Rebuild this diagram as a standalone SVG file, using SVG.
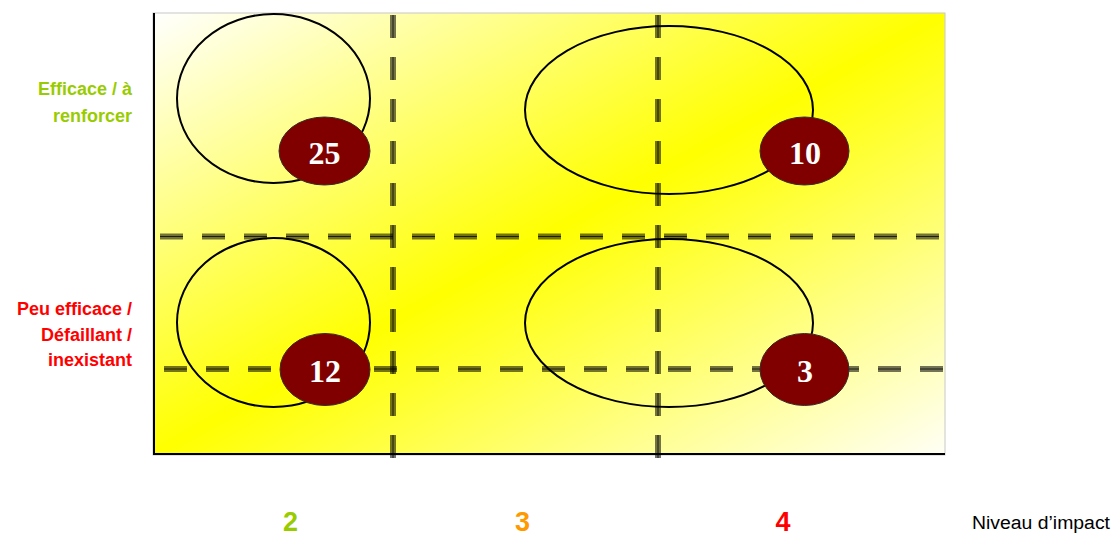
<svg xmlns="http://www.w3.org/2000/svg" width="1112" height="537" viewBox="0 0 1112 537">
  <defs>
    <linearGradient id="plotFill" x1="0" y1="0" x2="1" y2="1">
      <stop offset="0" stop-color="#FFFFFF"/>
      <stop offset="0.5" stop-color="#FFFF00"/>
      <stop offset="1" stop-color="#FFFFF6"/>
    </linearGradient>
  </defs>
  <style>
    .dash { stroke: #000; stroke-opacity: 0.55; stroke-width: 6; stroke-dasharray: 23 19; fill: none; }
    .dashcore { stroke: #000; stroke-opacity: 0.75; stroke-width: 1; stroke-dasharray: 23 19; fill: none; }
    .zone { fill: none; stroke: #000; stroke-width: 2; }
    .badge { fill: #800000; stroke: #3a2a2a; stroke-width: 1; }
    .badge-text { font-family: "Liberation Serif", "Times New Roman", serif; font-weight: bold; font-size: 32px; fill: #FFFFFF; text-anchor: middle; }
    .row-label { font-family: "Liberation Sans", Arial, sans-serif; font-weight: bold; font-size: 18px; text-anchor: end; }
    .col-label { font-family: "Liberation Sans", Arial, sans-serif; font-weight: bold; font-size: 27px; text-anchor: middle; }
    .axis-title { font-family: "Liberation Sans", Arial, sans-serif; font-size: 18px; fill: #000; }
  </style>

  <!-- plot area -->
  <g id="plot">
    <rect x="153" y="13" width="792" height="442" fill="url(#plotFill)" stroke="#C8C8C8" stroke-width="1"/>
    <line x1="154" y1="13" x2="154" y2="455" stroke="#000" stroke-width="2"/>
    <line x1="153" y1="454" x2="945" y2="454" stroke="#000" stroke-width="2"/>
  </g>

  <!-- dashed threshold lines -->
  <g id="connectors">
    <line class="dash" x1="160" y1="236.5" x2="940" y2="236.5"/>
    <line class="dashcore" x1="160" y1="236.5" x2="940" y2="236.5"/>
    <line class="dash" x1="164" y1="369" x2="945" y2="369"/>
    <line class="dashcore" x1="164" y1="369" x2="945" y2="369"/>
    <line class="dash" x1="393" y1="15" x2="393" y2="458"/>
    <line class="dashcore" x1="393" y1="15" x2="393" y2="458"/>
    <line class="dash" x1="658" y1="15" x2="658" y2="458"/>
    <line class="dashcore" x1="658" y1="15" x2="658" y2="458"/>
  </g>

  <!-- zones with counts -->
  <g id="node-top-left">
    <ellipse class="zone" cx="273.5" cy="98.5" rx="96.5" ry="84.5"/>
    <ellipse class="badge" cx="324.5" cy="151" rx="45.5" ry="34"/>
    <text class="badge-text" x="324.5" y="164">25</text>
  </g>
  <g id="node-top-right">
    <ellipse class="zone" cx="669" cy="110" rx="144" ry="84"/>
    <ellipse class="badge" cx="804.5" cy="151" rx="44.5" ry="34"/>
    <text class="badge-text" x="805" y="164">10</text>
  </g>
  <g id="node-bottom-left">
    <ellipse class="zone" cx="273.5" cy="322.5" rx="96.5" ry="84.5"/>
    <ellipse class="badge" cx="325" cy="369.5" rx="45" ry="36"/>
    <text class="badge-text" x="325" y="382">12</text>
  </g>
  <g id="node-bottom-right">
    <ellipse class="zone" cx="669" cy="323" rx="144" ry="84"/>
    <ellipse class="badge" cx="804.5" cy="369.5" rx="44.5" ry="36"/>
    <text class="badge-text" x="805" y="382">3</text>
  </g>

  <!-- row labels -->
  <g id="label-efficace" fill="#99CC00">
    <text class="row-label" x="132" y="95">Efficace / à</text>
    <text class="row-label" x="132" y="122">renforcer</text>
  </g>
  <g id="label-peu-efficace" fill="#FF0000">
    <text class="row-label" x="132" y="315">Peu efficace /</text>
    <text class="row-label" x="132" y="340.5">Défaillant /</text>
    <text class="row-label" x="132" y="366">inexistant</text>
  </g>

  <!-- impact levels -->
  <g id="label-impact">
    <text class="col-label" x="290.5" y="531" fill="#99CC00">2</text>
    <text class="col-label" x="522.5" y="531" fill="#FF9900">3</text>
    <text class="col-label" x="783" y="531" fill="#FF0000">4</text>
    <text class="axis-title" x="972" y="529" textLength="138" lengthAdjust="spacingAndGlyphs">Niveau d’impact</text>
  </g>
</svg>
